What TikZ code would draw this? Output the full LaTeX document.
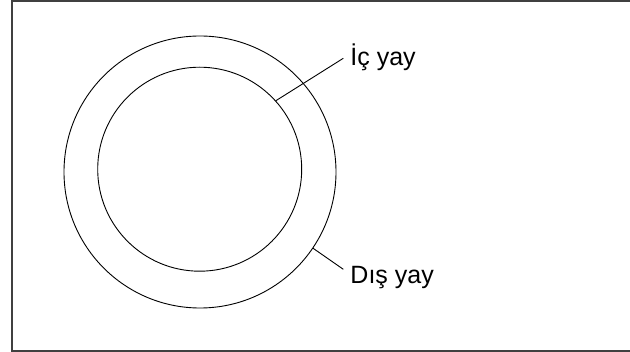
\documentclass[tikz,border=0pt]{standalone}
\usepackage{fontspec}
\setmainfont{Liberation Sans}
\usetikzlibrary{positioning}

\begin{document}
\begin{tikzpicture}[x=1pt, y=-1pt, line width=0.9pt,
    ring/.style={draw, circle, inner sep=0pt, outer sep=0pt},
    yaylabel/.style={anchor=base west, inner sep=0pt, font=\fontsize{25}{30}\selectfont}]
  \useasboundingbox (0,0) rectangle (630,352);
  \draw[black!75, line width=1.2pt] (631,1) -- (12,1) -- (12,351) -- (631,351);
  \node[ring, minimum size=272pt] (dis) at (200,172) {};
  \node[ring, minimum size=204pt] (ic) at (199.7,169.2) {};
  \node[yaylabel] (iclbl) at (350,66) {İç yay};
  \node[yaylabel] (dislbl) at (350,284) {Dış yay};
  \coordinate (icuc) at (343.3,58.3);
  \coordinate (disuc) at (343.3,269.3);
  \draw (ic.42) -- (icuc);
  \draw (dis.-34) -- (disuc);
\end{tikzpicture}
\end{document}
